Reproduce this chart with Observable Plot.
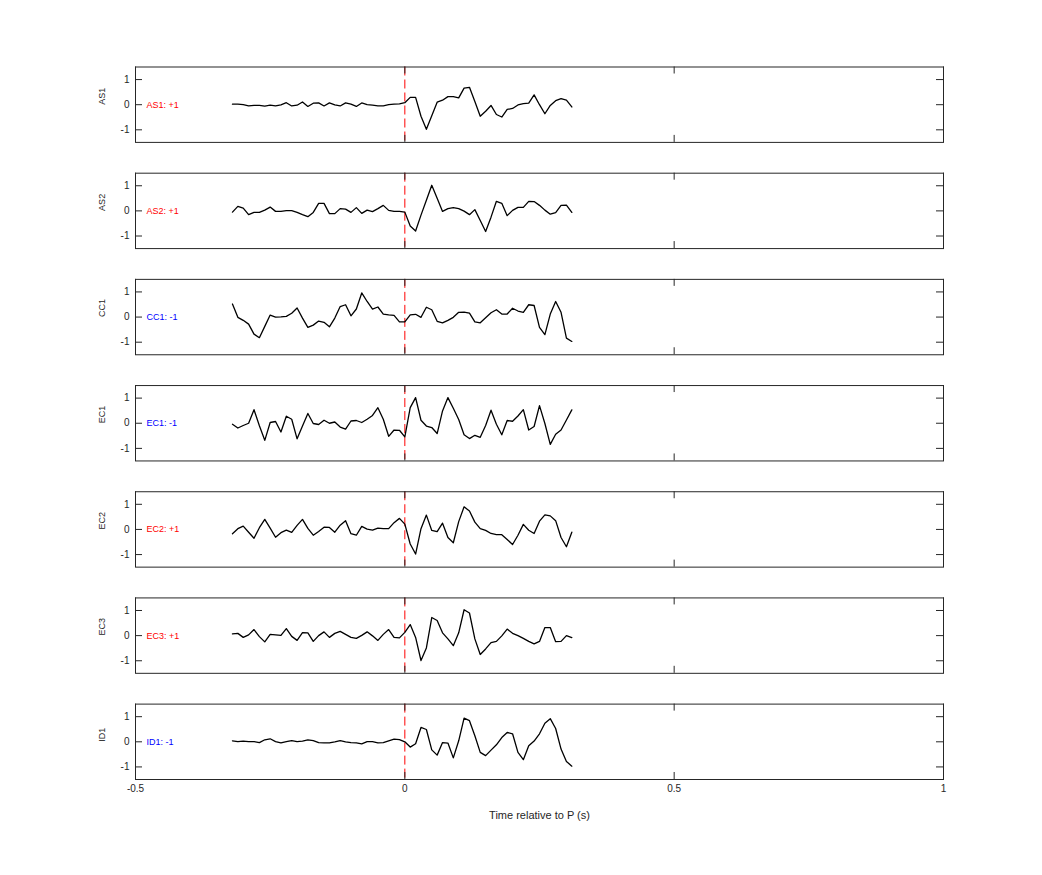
<!DOCTYPE html>
<html>
<head>
<meta charset="utf-8">
<script src="https://cdn.jsdelivr.net/npm/d3@7"></script>
<script src="https://cdn.jsdelivr.net/npm/@observablehq/plot@0.6"></script>
<style>
  html, body { margin: 0; padding: 0; background: #fff; }
  #chart { width: 1042px; height: 875px; }
</style>
</head>
<body>
<div id="chart"></div>
<script>
// ---- Data ----
const stations = ["AS1", "AS2", "CC1", "EC1", "EC2", "EC3", "ID1"];
const stationLabels = ["AS1: +1", "AS2: +1", "CC1: -1", "EC1: -1", "EC2: +1", "EC3: +1", "ID1: -1"];
const polarity = [1, 1, -1, -1, 1, 1, -1];
const xTicks = [-0.5, 0, 0.5, 1];
const yTicks = [-1, 0, 1];
const xLabel = "Time relative to P (s)";

const time = [-0.32,-0.31,-0.30,-0.29,-0.28,-0.27,-0.26,-0.25,-0.24,-0.23,-0.22,-0.21,-0.20,-0.19,-0.18,-0.17,
  -0.16,-0.15,-0.14,-0.13,-0.12,-0.11,-0.10,-0.09,-0.08,-0.07,-0.06,-0.05,-0.04,-0.03,-0.02,-0.01,
  0.00,0.01,0.02,0.03,0.04,0.05,0.06,0.07,0.08,0.09,0.10,0.11,0.12,0.13,0.14,0.15,
  0.16,0.17,0.18,0.19,0.20,0.21,0.22,0.23,0.24,0.25,0.26,0.27,0.28,0.29,0.30,0.31];

const as1 = [0.02,0.02,0.00,-0.05,-0.03,-0.03,-0.06,-0.02,-0.05,-0.01,0.08,-0.05,-0.02,0.11,-0.07,0.06,
  0.07,-0.05,0.07,-0.01,-0.05,0.07,0.02,-0.07,0.07,0.00,-0.02,-0.05,-0.05,0.00,0.02,0.03,
  0.08,0.29,0.29,-0.46,-0.98,-0.44,0.10,0.18,0.32,0.32,0.27,0.66,0.69,0.13,-0.46,-0.26,
  -0.03,-0.39,-0.49,-0.19,-0.15,-0.01,0.04,0.06,0.39,0.00,-0.36,-0.03,0.16,0.24,0.18,-0.09];

const as2 = [-0.05,0.18,0.11,-0.15,-0.06,-0.06,0.03,0.15,-0.02,-0.02,0.01,0.01,-0.06,-0.15,-0.23,-0.06,
  0.30,0.30,-0.11,-0.11,0.09,0.07,-0.06,0.13,-0.10,0.03,-0.03,0.09,0.22,0.02,-0.02,-0.02,
  -0.05,-0.60,-0.80,-0.17,0.42,1.02,0.50,-0.02,0.09,0.13,0.09,-0.01,-0.15,0.05,-0.38,-0.82,
  -0.25,0.38,0.30,-0.19,0.02,0.14,0.14,0.38,0.37,0.22,0.03,-0.13,-0.07,0.22,0.23,-0.06];

const cc1 = [0.52,-0.01,-0.13,-0.28,-0.68,-0.82,-0.37,0.08,0.00,0.01,0.03,0.15,0.36,-0.04,-0.41,-0.32,
  -0.16,-0.21,-0.39,-0.04,0.42,0.49,0.05,0.32,0.96,0.62,0.32,0.40,0.12,0.09,0.07,-0.19,
  -0.19,0.09,0.11,-0.01,0.39,0.29,-0.17,-0.23,-0.13,-0.01,0.19,0.20,0.16,-0.19,-0.23,-0.03,
  0.17,0.29,0.12,0.12,0.35,0.24,0.19,0.49,0.46,-0.41,-0.70,0.12,0.62,0.19,-0.84,-0.97];

const ec1 = [-0.04,-0.19,-0.09,0.00,0.54,-0.10,-0.68,0.03,0.07,-0.35,0.28,0.16,-0.62,-0.11,0.39,-0.01,
  -0.05,0.12,0.00,0.05,-0.15,-0.23,0.09,0.11,0.03,0.16,0.31,0.62,0.16,-0.52,-0.27,-0.28,
  -0.54,0.62,1.02,0.12,-0.11,-0.17,-0.41,0.49,1.02,0.60,0.15,-0.46,-0.61,-0.48,-0.56,-0.09,
  0.52,-0.04,-0.46,0.11,0.08,0.29,0.54,-0.27,-0.13,0.70,-0.01,-0.84,-0.44,-0.27,0.13,0.53];

const ec2 = [-0.17,0.03,0.13,-0.11,-0.35,0.07,0.40,0.05,-0.31,-0.13,-0.03,-0.12,0.16,0.40,0.04,-0.23,
  -0.08,0.09,0.08,-0.11,0.17,0.35,-0.17,-0.23,0.12,0.01,-0.03,0.05,0.03,0.03,0.27,0.44,
  0.21,-0.58,-0.98,0.03,0.57,-0.04,-0.09,0.25,-0.32,-0.53,0.31,0.90,0.73,0.29,0.03,-0.04,
  -0.16,-0.21,-0.21,-0.40,-0.60,-0.23,0.20,-0.03,-0.16,0.33,0.58,0.54,0.35,-0.32,-0.69,-0.11];

const ec3 = [0.07,0.09,-0.07,0.03,0.24,-0.04,-0.25,0.05,0.03,0.01,0.28,-0.03,-0.19,0.12,0.11,-0.23,
  0.00,0.15,-0.07,0.09,0.17,0.05,-0.07,-0.11,0.01,0.15,-0.01,-0.19,0.05,0.24,-0.07,-0.09,
  0.13,0.44,-0.07,-0.99,-0.49,0.72,0.60,0.11,-0.13,-0.40,0.11,1.03,0.90,-0.13,-0.75,-0.53,
  -0.28,-0.23,-0.01,0.26,0.09,0.00,-0.11,-0.23,-0.33,-0.23,0.32,0.32,-0.24,-0.23,0.00,-0.08];

const id1 = [0.04,0.01,0.03,0.01,0.01,-0.03,0.08,0.12,0.01,-0.04,0.01,0.05,0.01,0.03,0.08,0.05,
  -0.03,-0.04,-0.04,0.00,0.05,0.00,-0.03,-0.04,-0.08,0.01,0.01,-0.04,-0.03,0.04,0.11,0.09,
  0.00,-0.21,-0.08,0.57,0.49,-0.32,-0.53,-0.03,-0.05,-0.64,0.04,0.94,0.84,0.24,-0.42,-0.55,
  -0.33,-0.12,0.17,0.37,0.32,-0.42,-0.71,-0.16,0.03,0.32,0.74,0.92,0.53,-0.29,-0.78,-0.97];

const series = [as1, as2, cc1, ec1, ec2, ec3, id1];

// ---- Build table ----
const rows = stations.flatMap((s, k) => time.map((t, i) => ({station: s, t, v: series[k][i]})));
const labelRows = stations.map((s, k) => ({
  station: s,
  label: stationLabels[k],
  color: polarity[k] > 0 ? "red" : "blue"
}));

// ---- Layout ----
const W = 1042, H = 875;
const mTop = 66.5, mBottom = 96, mLeft = 135, mRight = 99;
const padInner = 0.29;
const step = (H - mTop - mBottom) / (stations.length - padInner);
const band = step * (1 - padInner);
const frameW = W - mLeft - mRight;
const tickLen = 7;
const ink = "#262626";
const fmt = d => String(d);

const chart = Plot.plot({
  width: W,
  height: H,
  marginTop: mTop,
  marginBottom: mBottom,
  marginLeft: mLeft,
  marginRight: mRight,
  style: {fontFamily: "'Liberation Sans', Arial, Helvetica, sans-serif", fontSize: "10px", color: ink, background: "white"},
  x: {domain: [-0.5, 1], axis: null},
  y: {domain: [-1.5, 1.5], axis: null},
  fy: {domain: stations, paddingInner: padInner, paddingOuter: 0, round: false, axis: null, label: null},
  color: {type: "identity"},
  marks: [
    Plot.ruleX([0], {stroke: "red", strokeWidth: 1, strokeDasharray: "9,4"}),
    Plot.line(rows, {x: "t", y: "v", fy: "station", stroke: "black", strokeWidth: 1.3}),
    // inward ticks, left and right
    Plot.tickY(yTicks, {y: d => d, stroke: ink, insetRight: frameW - tickLen}),
    Plot.tickY(yTicks, {y: d => d, stroke: ink, insetLeft: frameW - tickLen}),
    // inward ticks, top and bottom
    Plot.tickX(xTicks, {x: d => d, stroke: ink, insetBottom: band - tickLen}),
    Plot.tickX(xTicks, {x: d => d, stroke: ink, insetTop: band - tickLen}),
    Plot.frame({stroke: ink, strokeWidth: 1}),
    Plot.axisY({ticks: yTicks, tickSize: 0, tickPadding: 6, tickFormat: fmt, label: null, fontSize: 10, fill: ink}),
    Plot.axisX({ticks: xTicks, tickSize: 0, tickPadding: 5, tickFormat: fmt, label: null, fontSize: 10, fill: ink, facetAnchor: "bottom"}),
    // station name (rotated y label)
    Plot.text(labelRows, {fy: "station", text: "station", frameAnchor: "left", dx: -33, rotate: -90, fontSize: 9, fill: ink}),
    // station polarity label
    Plot.text(labelRows, {fy: "station", text: "label", fill: "color", frameAnchor: "left", dx: 11, textAnchor: "start", fontSize: 9}),
    // x label
    Plot.text([{station: stations[stations.length - 1], label: xLabel}], {fy: "station", text: "label", frameAnchor: "bottom", dy: 39, fontSize: 11, fill: ink})
  ]
});

document.getElementById("chart").appendChild(chart);
</script>
</body>
</html>
